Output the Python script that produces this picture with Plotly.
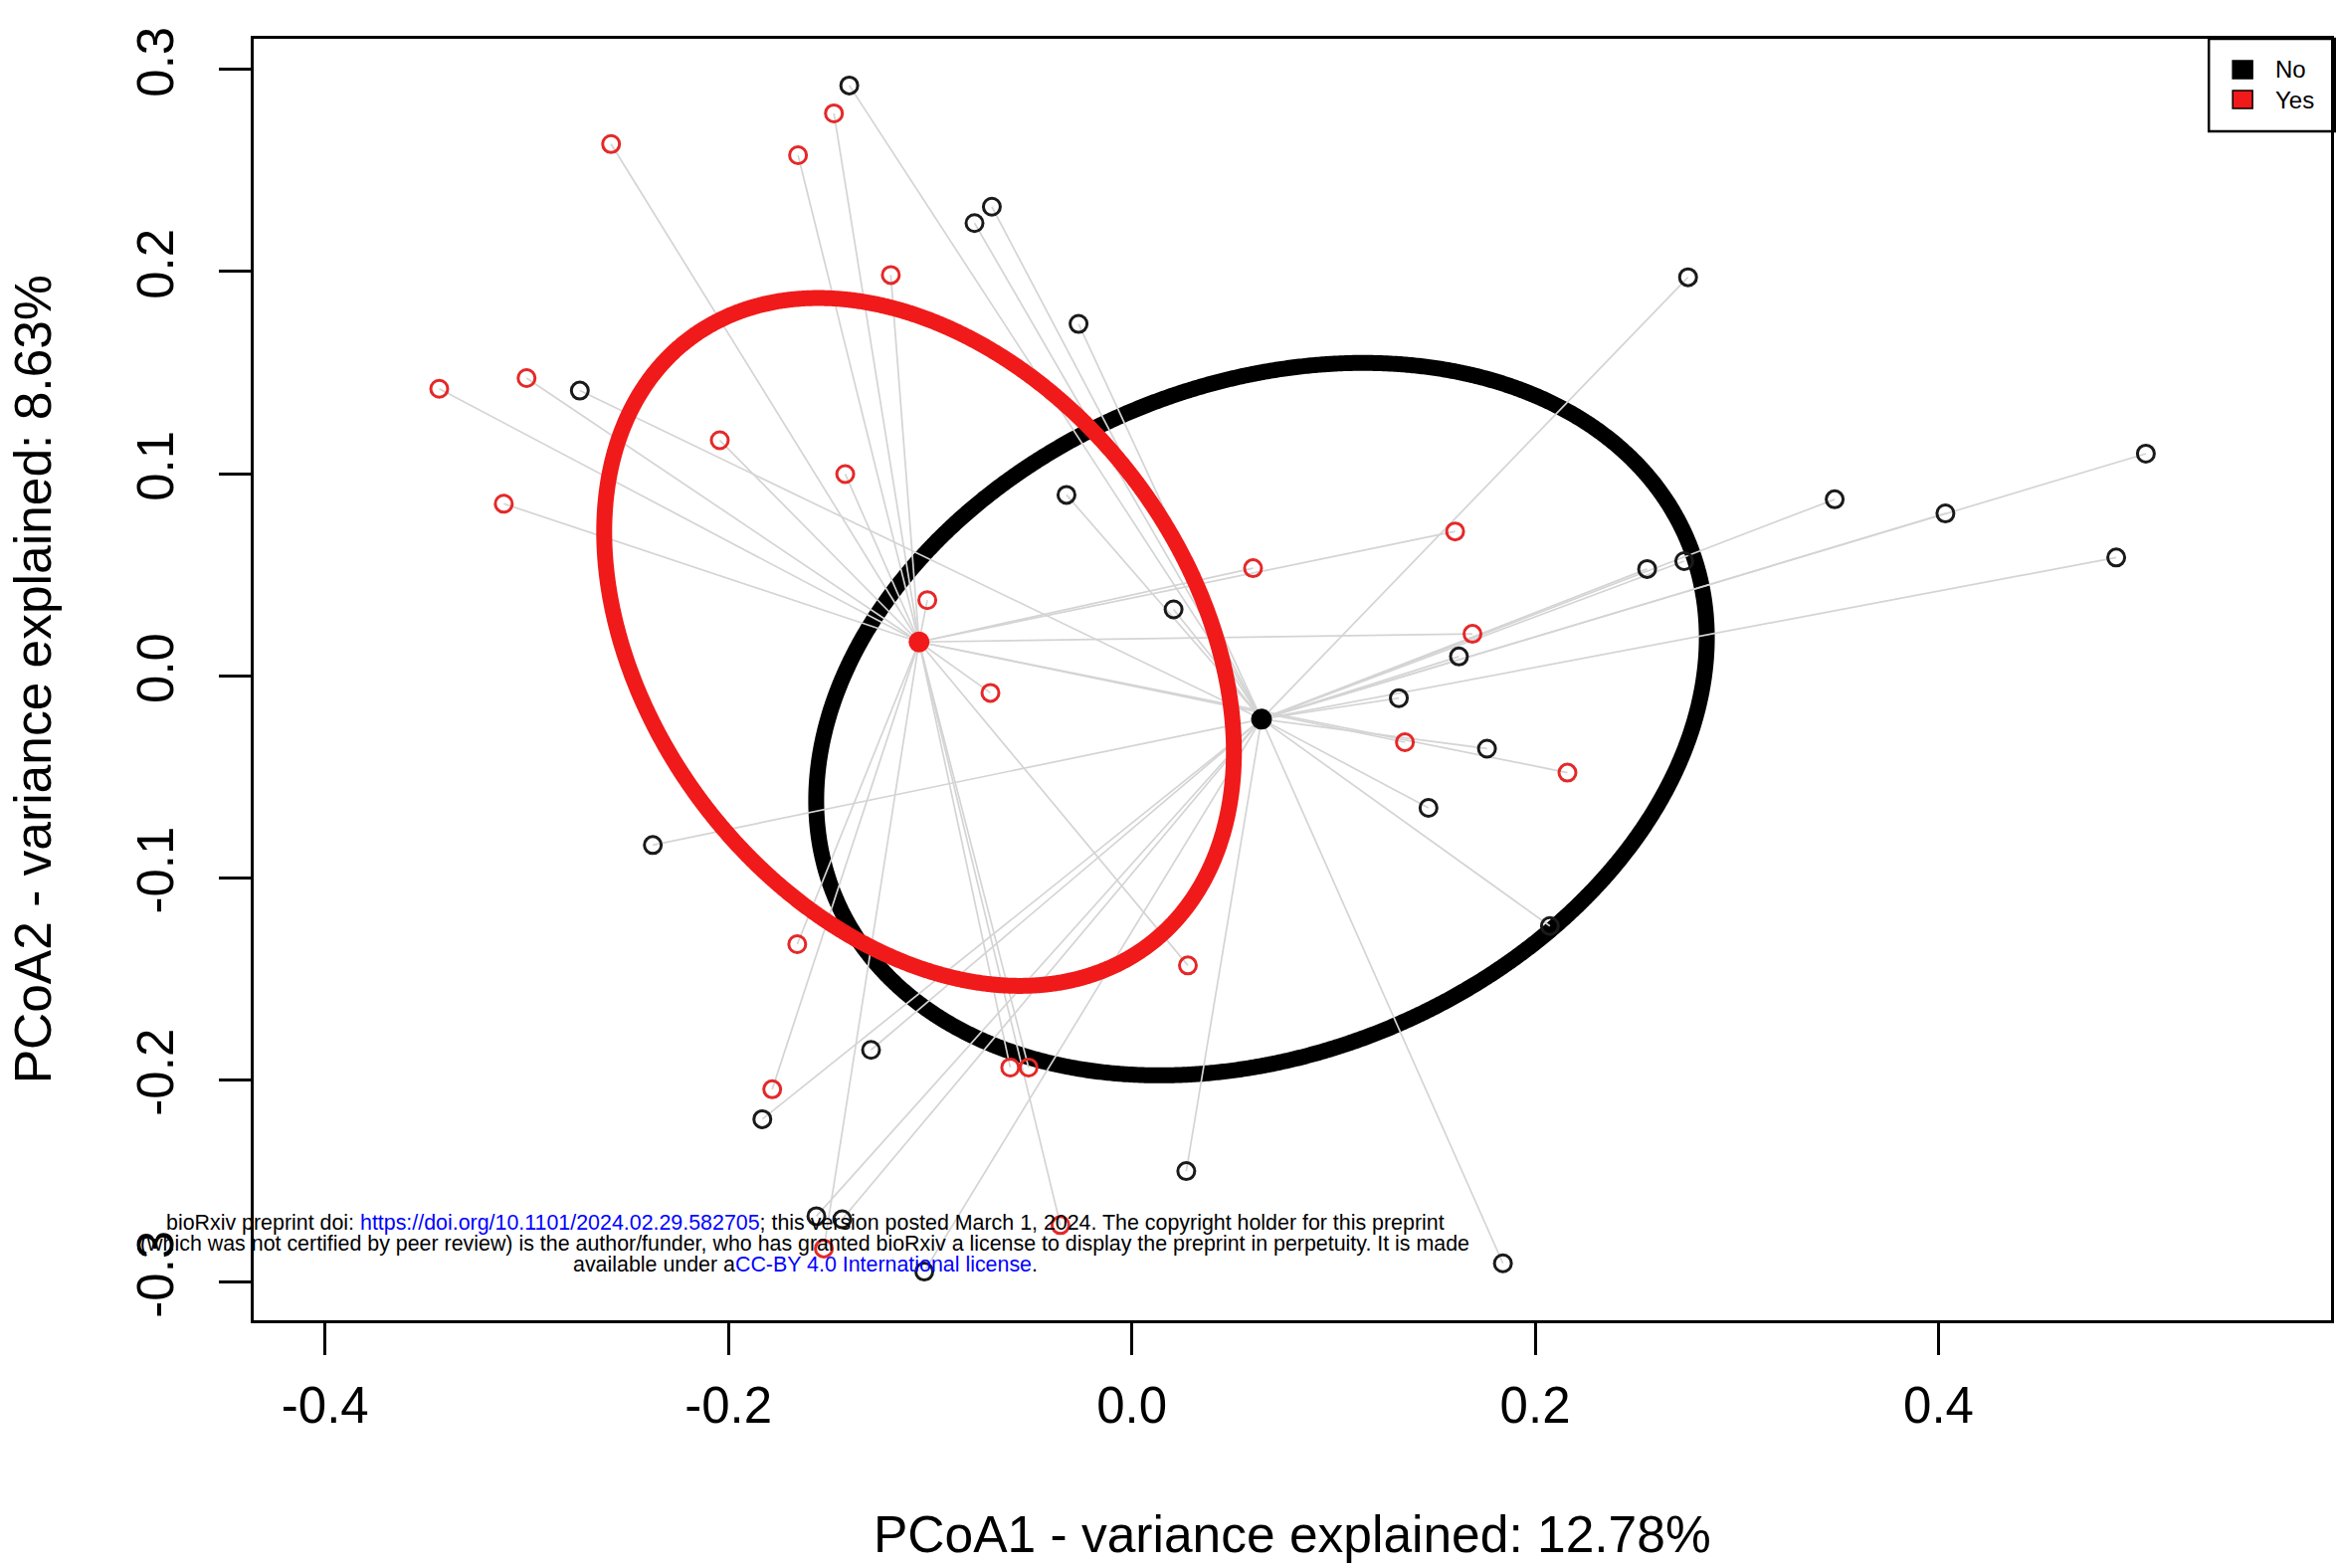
import numpy as np
import plotly.graph_objects as go

# ---------------- data ----------------
groups = ["No", "Yes"]

no_x = [-0.1401, -0.0780, -0.0694, -0.0264, -0.2737, -0.0324, 0.0207, 0.2758, 0.5028,
        0.3485, 0.4034, 0.4881, 0.2555, 0.2739, 0.1622, 0.1324, 0.1761, 0.1471, 0.2073,
        0.0270, 0.1840, -0.2375, -0.1293, -0.1832, -0.1564, -0.1436, -0.1029]
no_y = [0.2921, 0.2240, 0.2321, 0.1741, 0.1411, 0.0895, 0.0328, 0.1972, 0.1099,
        0.0873, 0.0803, 0.0585, 0.0528, 0.0567, 0.0095, -0.0111, -0.0361, -0.0654, -0.1239,
        -0.2452, -0.2908, -0.0838, -0.1852, -0.2195, -0.2675, -0.2690, -0.2949]

yes_x = [-0.1477, -0.2582, -0.1655, -0.1195, -0.3434, -0.3001, -0.2043, -0.1421, -0.3114,
         -0.1014, -0.0701, 0.1603, 0.0601, 0.1689, 0.1354, 0.2160, 0.0278, -0.1659,
         -0.1783, -0.0603, -0.0512, -0.1527, -0.0354]
yes_y = [0.2783, 0.2631, 0.2576, 0.1983, 0.1420, 0.1473, 0.1165, 0.0998, 0.0851,
         0.0374, -0.0085, 0.0714, 0.0532, 0.0207, -0.0329, -0.0480, -0.1434, -0.1329,
         -0.2047, -0.1939, -0.1939, -0.2835, -0.2719]

centroid_no = [0.0643, -0.0215]
centroid_yes = [-0.1055, 0.0167]

# ellipse shape matrices [Sxx, Syy, Sxy]
ellipse_no = [0.04875, 0.03108, 0.0089]
ellipse_yes = [0.02437, 0.02897, -0.0085]

x_ticks = [-0.4, -0.2, 0.0, 0.2, 0.4]
x_ticklabels = ["-0.4", "-0.2", "0.0", "0.2", "0.4"]
y_ticks = [-0.3, -0.2, -0.1, 0.0, 0.1, 0.2, 0.3]
y_ticklabels = ["-0.3", "-0.2", "-0.1", "0.0", "0.1", "0.2", "0.3"]

x_title = "PCoA1 - variance explained: 12.78%"
y_title = "PCoA2 - variance explained: 8.63%"

# ---------------- layout constants ----------------
W, H = 2348, 1576
L_, R_, T_, B_ = 255, 2346, 39, 1327
FONT = "Liberation Sans, Arial, Helvetica, sans-serif"
RED = "#f01a1a"
PT_RED = "#e52828"
GRAY = "rgb(212,212,212)"


def px(x):
    return (x - L_) / (R_ - L_)


def py(y):
    return (B_ - y) / (B_ - T_)


def ellipse(center, s, n=720):
    sxx, syy, sxy = s
    Lm = np.linalg.cholesky(np.array([[sxx, sxy], [sxy, syy]]))
    t = np.linspace(0, 2 * np.pi, n)
    pts = Lm @ np.vstack([np.cos(t), np.sin(t)])
    return pts[0] + center[0], pts[1] + center[1]


def spider(xs, ys, c):
    lx, ly = [], []
    for a, b in zip(xs, ys):
        lx += [c[0], a, None]
        ly += [c[1], b, None]
    return lx, ly


fig = go.Figure()

# black ellipse (below spider lines)
ex, ey = ellipse(centroid_no, ellipse_no)
fig.add_trace(go.Scatter(x=ex, y=ey, mode="lines",
                         line=dict(color="black", width=16, simplify=False, shape="spline", smoothing=0.3),
                         hoverinfo="skip", showlegend=False))

# spider lines
for xs, ys, c in [(no_x, no_y, centroid_no), (yes_x, yes_y, centroid_yes)]:
    lx, ly = spider(xs, ys, c)
    fig.add_trace(go.Scatter(x=lx, y=ly, mode="lines", line=dict(color=GRAY, width=1.7),
                             hoverinfo="skip", showlegend=False))

# red ellipse
ex, ey = ellipse(centroid_yes, ellipse_yes)
fig.add_trace(go.Scatter(x=ex, y=ey, mode="lines",
                         line=dict(color=RED, width=16, simplify=False, shape="spline", smoothing=0.3),
                         hoverinfo="skip", showlegend=False))

# points
fig.add_trace(go.Scatter(x=no_x, y=no_y, mode="markers", name=groups[0], showlegend=False,
                         marker=dict(symbol="circle-open", size=17, color="#1a1a1a",
                                     line=dict(width=3, color="#1a1a1a"))))
fig.add_trace(go.Scatter(x=yes_x, y=yes_y, mode="markers", name=groups[1], showlegend=False,
                         marker=dict(symbol="circle-open", size=17, color=PT_RED,
                                     line=dict(width=3, color=PT_RED))))

# centroids
fig.add_trace(go.Scatter(x=[centroid_no[0]], y=[centroid_no[1]], mode="markers", showlegend=False,
                         marker=dict(symbol="circle", size=21, color="black")))
fig.add_trace(go.Scatter(x=[centroid_yes[0]], y=[centroid_yes[1]], mode="markers", showlegend=False,
                         marker=dict(symbol="circle", size=21, color=RED)))

# ---------------- custom legend ----------------
shapes = [dict(type="rect", xref="paper", yref="paper",
               x0=px(2223), x1=px(2350), y0=py(132), y1=py(39),
               line=dict(color="black", width=2.5), fillcolor="rgba(0,0,0,0)")]
annotations = []
for i, (g, col) in enumerate(zip(groups, ["black", RED])):
    cy = 70 + 30 * i
    shapes.append(dict(type="rect", xref="paper", yref="paper",
                       x0=px(2247), x1=px(2267), y0=py(cy + 9), y1=py(cy - 9),
                       line=dict(color="black", width=1.5), fillcolor=col))
    annotations.append(dict(text=g, xref="paper", yref="paper", x=px(2288), y=py(cy),
                            xanchor="left", yanchor="middle", showarrow=False,
                            font=dict(family=FONT, size=24, color="black")))

# axis titles
annotations.append(dict(text=x_title, xref="paper", yref="paper", x=0.5, y=py(1542),
                        xanchor="center", yanchor="middle", showarrow=False,
                        font=dict(family=FONT, size=51.5, color="black")))
annotations.append(dict(text=y_title, xref="paper", yref="paper", x=px(33), y=0.5,
                        xanchor="center", yanchor="middle", showarrow=False, textangle=-90,
                        font=dict(family=FONT, size=51.5, color="black")))

# bioRxiv watermark
BLUE = "#0000ff"
wm_lines = [
    'bioRxiv preprint doi: <span style="color:%s">https://doi.org/10.1101/2024.02.29.582705</span>; '
    'this version posted March 1, 2024. The copyright holder for this preprint' % BLUE,
    '(which was not certified by peer review) is the author/funder, who has granted bioRxiv a license '
    'to display the preprint in perpetuity. It is made',
    'available under a<span style="color:%s">CC-BY 4.0 International license</span>.' % BLUE,
]
for i, t in enumerate(wm_lines):
    annotations.append(dict(text=t, xref="paper", yref="paper", x=px(810), y=py(1229 + 21 * i),
                            xanchor="center", yanchor="middle", showarrow=False,
                            font=dict(family=FONT, size=21.4, color="black")))

fig.update_layout(
    width=W, height=H,
    margin=dict(l=L_, r=W - R_, t=T_, b=H - B_, pad=0),
    paper_bgcolor="white", plot_bgcolor="white",
    shapes=shapes, annotations=annotations,
    showlegend=False,
    font=dict(family=FONT, color="black"),
)
fig.update_xaxes(range=[-0.4354, 0.5946], tickvals=x_ticks, ticktext=x_ticklabels,
                 showgrid=False, zeroline=False, showline=True, mirror=True,
                 linecolor="black", linewidth=3, ticks="outside", ticklen=32, tickwidth=3,
                 tickcolor="black", tickfont=dict(family=FONT, size=51, color="black"),
                 ticklabelstandoff=7)
fig.update_yaxes(range=[-0.3190, 0.3152], tickvals=y_ticks, ticktext=y_ticklabels,
                 showgrid=False, zeroline=False, showline=True, mirror=True,
                 linecolor="black", linewidth=3, ticks="outside", ticklen=32, tickwidth=3,
                 tickcolor="black", tickangle=-90, tickfont=dict(family=FONT, size=51, color="black"),
                 ticklabelstandoff=26)

fig.write_html("out.html", config={"displayModeBar": False},
               post_script="document.body.style.margin='0';document.body.style.overflow='hidden';"
                           "document.documentElement.style.overflow='hidden';")
